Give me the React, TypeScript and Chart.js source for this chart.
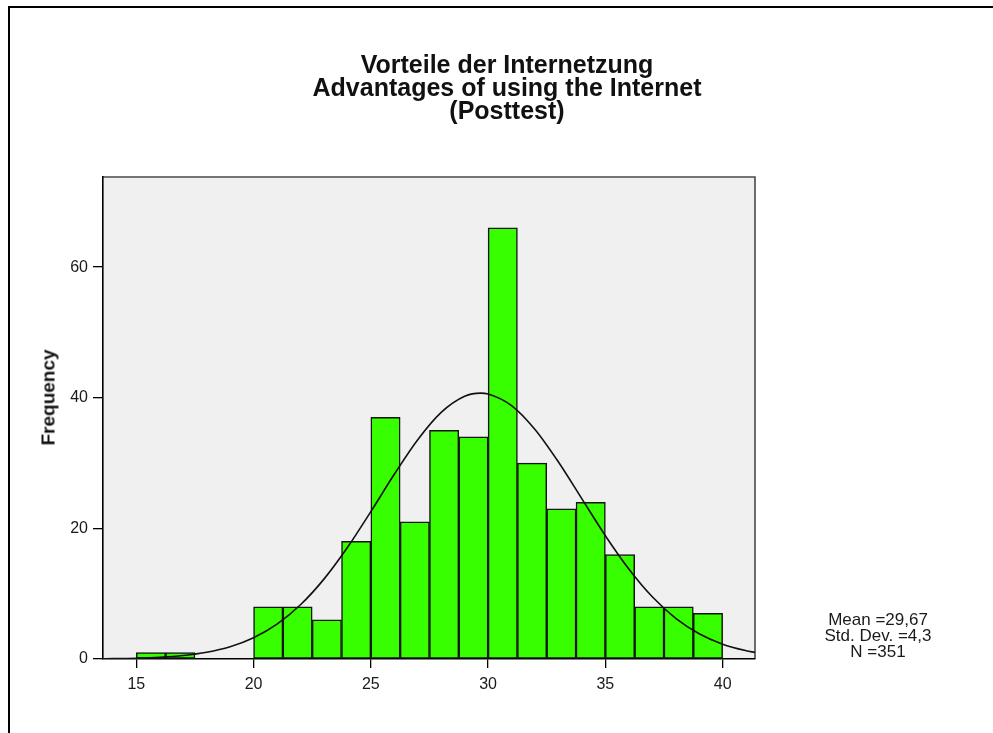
import React, { useEffect, useRef } from "react";
import { Chart, registerables } from "chart.js";

Chart.register(...registerables);

// ---- data ----
const binStarts = [15, 16.25, 17.5, 18.75, 20, 21.25, 22.5, 23.75, 25, 26.25, 27.5, 28.75, 30, 31.25, 32.5, 33.75, 35, 36.25, 37.5, 38.75];
const binWidth = 1.25;
const frequencies = [1, 1, 0, 0, 8, 8, 6, 18, 37, 21, 35, 34, 66, 30, 23, 24, 16, 8, 8, 7];

const curveX = [13.58, 14, 15, 16, 17, 18, 19, 20, 21, 22, 23, 24, 25, 26, 27, 28, 29, 29.67, 30, 31, 32, 33, 34, 35, 36, 37, 38, 39, 40, 41, 41.38];
const curveY = [0.037, 0.053, 0.121, 0.26, 0.53, 1.02, 1.87, 3.25, 5.33, 8.3, 12.23, 17.07, 22.57, 28.28, 33.57, 37.75, 40.22, 40.71, 40.59, 38.81, 35.15, 30.16, 24.52, 18.88, 13.78, 9.52, 6.23, 3.87, 2.27, 1.27, 1.0];

const xTickValues = [15, 20, 25, 30, 35, 40];
const yTickValues = [0, 20, 40, 60];
const xMin = 13.58;
const xMax = 41.38;
const yMin = 0;
const yMax = 73.8;

const titleLines = ["Vorteile der Internetzung", "Advantages of using the Internet", "(Posttest)"];
const yAxisTitle = "Frequency";
const statsLines = ["Mean =29,67", "Std. Dev. =4,3", "N =351"];

const FONT = '"Liberation Sans", Arial, Helvetica, sans-serif';

const plotFrame = {
  id: "plotFrame",
  beforeDraw(chart: any) {
    const { ctx, chartArea } = chart;
    const { left, top, right, bottom } = chartArea;
    ctx.save();
    ctx.fillStyle = "#f0f0f0";
    ctx.fillRect(left, top, right - left, bottom - top);
    ctx.strokeStyle = "#4a4a4a";
    ctx.lineWidth = 1.6;
    ctx.beginPath();
    ctx.moveTo(left, top);
    ctx.lineTo(right, top);
    ctx.lineTo(right, bottom);
    ctx.stroke();
    ctx.restore();
  },
};

export default function App() {
  const canvasRef = useRef<HTMLCanvasElement | null>(null);

  useEffect(() => {
    if (!canvasRef.current) return;
    const chart = new Chart(canvasRef.current, {
      type: "bar",
      data: {
        datasets: [
          {
            type: "line",
            data: curveX.map((x, i) => ({ x, y: curveY[i] })),
            borderColor: "#111",
            borderWidth: 1.6,
            pointRadius: 0,
            fill: false,
            cubicInterpolationMode: "monotone",
            order: 0,
          } as any,
          {
            type: "bar",
            data: binStarts.map((s, i) => ({ x: s + binWidth / 2, y: frequencies[i] })),
            backgroundColor: "#37ff00",
            borderColor: "#141414",
            borderWidth: 1.5,
            borderSkipped: false,
            barPercentage: 1,
            categoryPercentage: 1,
            grouped: false,
            order: 1,
          } as any,
        ],
      },
      options: {
        animation: false,
        responsive: false,
        layout: { padding: { top: 177, right: 238, left: 0, bottom: 0 } },
        plugins: {
          legend: { display: false },
          tooltip: { enabled: false },
          title: { display: false },
        },
        scales: {
          x: {
            type: "linear",
            min: xMin,
            max: xMax,
            offset: false,
            afterBuildTicks: (s: any) => {
              s.ticks = xTickValues.map((v) => ({ value: v }));
            },
            afterFit: (s: any) => {
              s.height = 74;
            },
            grid: {
              offset: false,
              drawOnChartArea: false,
              drawTicks: true,
              tickLength: 9,
              color: "#000",
              lineWidth: 1.3,
            },
            border: { display: true, color: "#000", width: 1.6 },
            ticks: {
              font: { family: FONT, size: 16 },
              color: "#1a1a1a",
              padding: 7,
              maxRotation: 0,
              autoSkip: false,
            },
          },
          y: {
            type: "linear",
            min: yMin,
            max: yMax,
            afterBuildTicks: (s: any) => {
              s.ticks = yTickValues.map((v) => ({ value: v }));
            },
            afterFit: (s: any) => {
              s.width = 103;
            },
            grid: {
              drawOnChartArea: false,
              drawTicks: true,
              tickLength: 10,
              color: "#000",
              lineWidth: 1.3,
            },
            border: { display: true, color: "#000", width: 1.6 },
            ticks: {
              font: { family: FONT, size: 16 },
              color: "#1a1a1a",
              padding: 5,
              autoSkip: false,
            },
          },
        } as any,
      },
      plugins: [plotFrame],
    } as any);
    return () => chart.destroy();
  }, []);

  return (
    <div
      style={{
        position: "absolute",
        left: 0,
        top: 0,
        width: 993,
        height: 733,
        overflow: "hidden",
        background: "#fff",
      }}
    >
      <div
        style={{
          position: "absolute",
          left: 8,
          top: 6,
          width: 1200,
          height: 1000,
          borderLeft: "2px solid #000",
          borderTop: "2px solid #000",
        }}
      />
      <canvas
        ref={canvasRef}
        width={993}
        height={733}
        style={{ position: "absolute", left: 0, top: 0, width: 993, height: 733 }}
      />
      <div
        style={{
          position: "absolute",
          left: 0,
          top: 53,
          width: 1014,
          textAlign: "center",
          fontFamily: FONT,
          fontWeight: "bold",
          fontSize: 25,
          lineHeight: "23px",
          color: "#111",
        }}
      >
        {titleLines.map((t) => (
          <div key={t}>{t}</div>
        ))}
      </div>
      <div
        style={{
          position: "absolute",
          left: -52,
          top: 387.5,
          width: 200,
          height: 19,
          lineHeight: "19px",
          textAlign: "center",
          fontFamily: FONT,
          fontWeight: "bold",
          fontSize: 19,
          color: "#111",
          transform: "rotate(-90deg)",
        }}
      >
        {yAxisTitle}
      </div>
      <div
        style={{
          position: "absolute",
          left: 778,
          top: 612,
          width: 200,
          textAlign: "center",
          fontFamily: FONT,
          fontSize: 17,
          lineHeight: "16px",
          color: "#1a1a1a",
        }}
      >
        {statsLines.map((t) => (
          <div key={t}>{t}</div>
        ))}
      </div>
    </div>
  );
}
